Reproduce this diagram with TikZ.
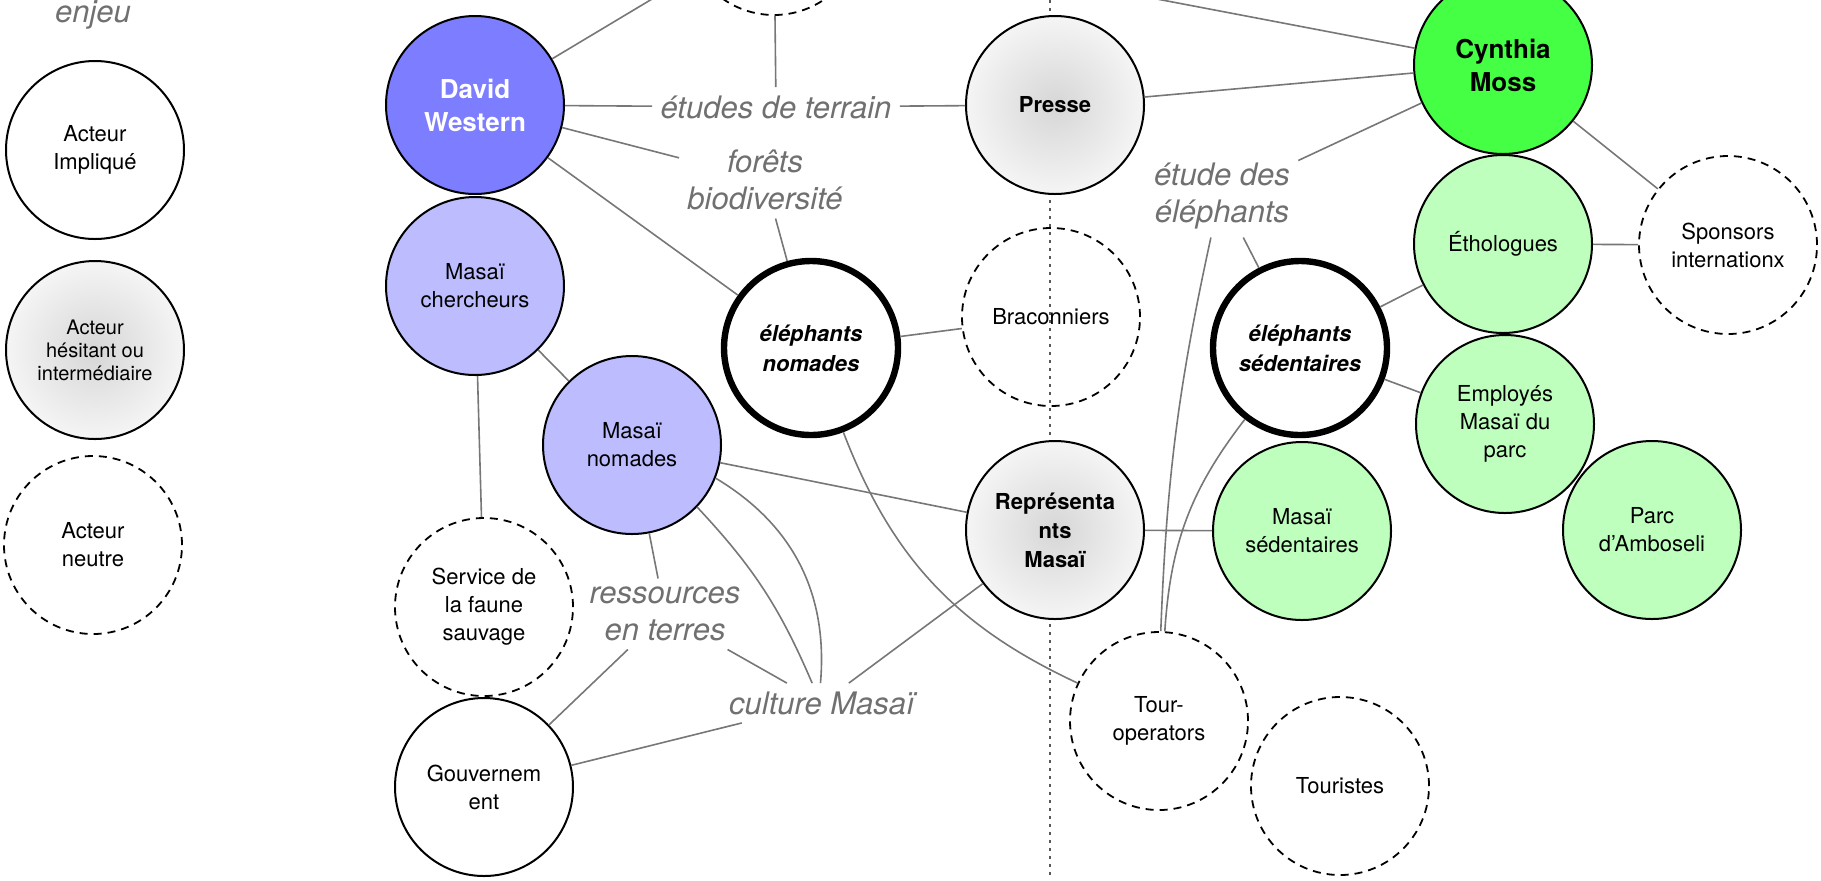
\documentclass[tikz,border=0pt]{standalone}
\usepackage{fontspec}
\setmainfont{TeX Gyre Heros}
\usepackage{xcolor}
\definecolor{bleuDW}{RGB}{125,125,255}
\definecolor{bleuclair}{RGB}{188,188,255}
\definecolor{vertCM}{RGB}{68,255,68}
\definecolor{vertclair}{RGB}{190,255,190}
\definecolor{gristexte}{HTML}{707070}
\definecolor{grislien}{HTML}{777777}

\begin{document}
\begin{tikzpicture}[x=0.5pt,y=-0.5pt,
  acteur/.style={circle,draw,line width=1pt,minimum size=89pt,inner sep=1pt,align=center,font=\fontsize{11}{14}\selectfont},
  neutre/.style={acteur,dash pattern=on 4pt off 3pt,line width=0.9pt},
  hesitant/.style={acteur,inner color=black!16,outer color=black!4},
  enjeu/.style={acteur,line width=3.2pt,minimum size=87pt,fill=white,font=\fontsize{11}{15}\selectfont\bfseries\itshape},
  nom/.style={font=\fontsize{13}{16.5}\selectfont\bfseries},
  lien/.style={draw=grislien,line width=0.8pt},
  etiquette/.style={text=gristexte,font=\fontsize{15.5}{18.5}\selectfont\itshape,align=center,inner sep=4pt}]
  \path[use as bounding box,clip] (0,0) rectangle (1821,880);
  \draw[black!65,line width=0.6pt,dash pattern=on 1.5pt off 2.5pt] (1050,0) -- (1050,880);

  \node[etiquette] (legEnjeu) at (93,15) {enjeu};
  \node[acteur] (legImpl) at (95,150) {Acteur\\Impliqué};
  \node[hesitant,font=\fontsize{10}{11.5}\selectfont] (legHes) at (95,350) {Acteur\\hésitant ou\\intermédiaire};
  \node[neutre] (legNeutre) at (93,545) {Acteur\\neutre};

  \node[neutre] (topN) at (774,-74) {};
  \node[acteur,nom,fill=bleuDW,text=white] (dw) at (475,105) {David\\Western};
  \node[acteur,fill=bleuclair] (chercheurs) at (475,286) {Masaï\\chercheurs};
  \node[acteur,fill=bleuclair] (nomadesM) at (632,445) {Masaï\\nomades};
  \node[neutre] (service) at (484,607) {Service de\\la faune\\sauvage};
  \node[acteur,fill=white] (gouv) at (484,787) {Gouvernem\\ent};
  \node[enjeu] (elNom) at (811,348) {éléphants\\nomades};
  \node[hesitant,font=\fontsize{11}{14.5}\selectfont\bfseries] (presse) at (1055,105) {Presse};
  \node[neutre] (braco) at (1051,317) {Braconniers};
  \node[hesitant,font=\fontsize{11}{14.5}\selectfont\bfseries] (repr) at (1055,530) {Représenta\\nts\\Masaï};
  \node[neutre] (tour) at (1159,721) {Tour-\\operators};
  \node[neutre] (touristes) at (1340,786) {Touristes};
  \node[enjeu] (elSed) at (1300,348) {éléphants\\sédentaires};
  \node[acteur,fill=vertclair] (masSed) at (1302,531) {Masaï\\sédentaires};
  \node[acteur,nom,fill=vertCM] (cm) at (1503,65) {Cynthia\\Moss};
  \node[acteur,fill=vertclair] (etho) at (1503,244) {Éthologues};
  \node[neutre] (sponsors) at (1728,245) {Sponsors\\internationx};
  \node[acteur,fill=vertclair] (employes) at (1505,424) {Employés\\Masaï du\\parc};
  \node[acteur,fill=vertclair] (parc) at (1652,530) {Parc\\d’Amboseli};

  \node[etiquette] (lTerrain) at (776,107) {études de terrain};
  \node[etiquette] (lForets) at (765,180) {forêts\\biodiversité};
  \node[etiquette] (lEtude) at (1222,196) {étude des\\éléphants};
  \node[etiquette] (lRess) at (665,614) {ressources\\en terres};
  \node[etiquette] (lCulture) at (822,703) {culture Masaï};

  \draw[lien] (dw) -- (topN);
  \draw[lien] (topN) -- (lTerrain);
  \draw[lien] (dw) -- (lTerrain);
  \draw[lien] (lTerrain) -- (presse);
  \draw[lien] (topN) -- (cm);
  \draw[lien] (presse) -- (cm);
  \draw[lien] (cm) -- (lEtude);
  \draw[lien] (lEtude) -- (elSed);
  \draw[lien] (cm) -- (sponsors);
  \draw[lien] (etho) -- (sponsors);
  \draw[lien] (elSed) -- (etho);
  \draw[lien] (elSed) -- (employes);
  \draw[lien] (repr) -- (masSed);
  \draw[lien] (dw) -- (lForets);
  \draw[lien] (lForets) -- (elNom);
  \draw[lien] (dw) -- (elNom);
  \draw[lien] (elNom) -- (braco);
  \draw[lien] (chercheurs) -- (nomadesM);
  \draw[lien] (chercheurs) -- (service);
  \draw[lien] (nomadesM) -- (repr);
  \draw[lien] (nomadesM) -- (lRess);
  \draw[lien] (lRess) -- (gouv);
  \draw[lien] (lRess) -- (lCulture);
  \draw[lien] (lCulture) -- (gouv);
  \draw[lien] (lCulture) -- (repr);
  \draw[lien] (nomadesM) to[bend left=10] (lCulture);
  \draw[lien] (nomadesM) to[bend left=32] (lCulture);
  \draw[lien] (elNom) to[bend right=22] (tour);
  \draw[lien] (lEtude.255) to[bend right=5] (tour);
  \draw[lien] (elSed) to[bend right=17] (tour);
\end{tikzpicture}
\end{document}
